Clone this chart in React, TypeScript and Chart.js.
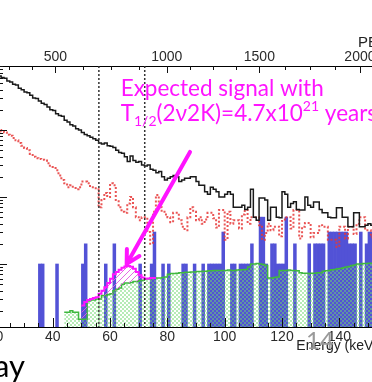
import React, { useEffect, useRef } from 'react';
import { Chart, registerables } from 'chart.js';

Chart.register(...registerables);

// ---------- data (1 keV bins) ----------
const HIST_START = 20; // lower edge of first bin, keV

const ALL_EVENTS = [
  700, 640, 610, 590, 540, 520, 480, 470, 420, 400,
  370, 360, 330, 300, 295, 270, 250, 240, 220, 200,
  195, 175, 165, 160, 140, 132, 120, 115, 104, 100,
  92, 86, 82, 78, 74, 70, 64, 62, 64, 58,
  57, 55, 50, 46, 45, 40, 34, 41, 35, 33,
  34, 30, 29, 30, 26, 25, 23, 24, 20, 18,
  19, 20, 21, 20, 17, 18, 19, 19, 20, 20,
  17, 15, 15, 12, 11, 14, 13, 12, 10, 10,
  11, 12, 11, 7, 7, 7, 7.5, 6.5, 7, 13,
  5, 4.5, 9.7, 9.7, 9, 4.5, 7, 7, 5, 4.9,
  12, 11, 7, 8, 8.5, 6.5, 6.4, 6.4, 10, 7.5,
  7, 8.4, 8.4, 6.5, 5.8, 5.8, 5, 4.9, 4.9, 6.9,
  6.9, 5, 5, 3.6, 3.6, 5.8, 5.8, 3.6, 3.6, 3.8,
  4, 3.8, 4, 4,
];

const AFTER_FIRST_CUT = [
  110, 100, 95, 92, 85, 82, 76, 70, 64, 58,
  54, 50, 44, 40, 38, 37, 36, 35, 32, 28,
  27, 25, 21, 18, 16, 14, 15, 13.6, 13, 14,
  17, 17, 16, 14, 14, 13, 7, 9, 11.5, 10,
  16, 15, 9, 7, 6, 5.8, 8, 10, 7, 5,
  4.5, 5, 5, 3, 2, 6, 10.7, 7, 6, 5.5,
  5, 4.2, 5.8, 5.8, 4.5, 3.6, 3.2, 5, 7, 6,
  4.5, 5, 4, 4.6, 5.8, 5.8, 4.8, 3.5, 6.4, 6.4,
  2.3, 6, 4, 4.5, 4.5, 3.4, 5.5, 6.4, 4, 5,
  5, 5, 3.8, 2.3, 2.9, 4, 3.2, 3.6, 3.6, 2.6,
  4.4, 5, 5, 3.4, 6.4, 6.4, 2.4, 3.6, 4.1, 4.1,
  2.5, 2.9, 2.9, 3.8, 3.6, 3.6, 2.3, 2.3, 2.3, 1.8,
  3.6, 3.6, 2.4, 3.6, 3.6, 2.8, 4, 5, 5, 3.2,
  3.2, 2.5, 3, 3,
];

// final data: bin lower edge (keV) and counts
const DATA_BIN_E = [
  35, 36, 41, 50, 51, 58, 61, 70, 74, 75, 78, 80, 85, 86, 89, 92, 94, 95, 96, 97,
  98, 99, 102, 103, 105, 106, 107, 108, 109, 112, 113, 114, 116, 117, 118, 119, 120, 121, 124, 129,
  131, 132, 133, 134, 136, 137, 138, 139, 140, 141, 142, 143, 144, 145, 147, 149, 150, 151, 152, 153,
];
const DATA_COUNTS = [
  1, 1, 1, 1, 2, 1, 2, 1, 1, 3, 1, 1, 1, 1, 1, 1, 1, 1, 1, 1,
  1, 3, 1, 1, 1, 1, 1, 1, 2, 5, 5, 1, 2, 2, 1, 1, 1, 5, 2, 2,
  2, 2, 2, 2, 3, 3, 3, 3, 3, 3, 3, 2, 2, 2, 3, 2, 3, 3, 3, 3,
];

const BG_START = 44;
const BACKGROUND_MODEL = [
  0.19, 0.19, 0.2, 0.19, 0.19, 0.15, 0.15, 0.15, 0.28, 0.29,
  0.29, 0.3, 0.3, 0.34, 0.34, 0.35, 0.36, 0.4, 0.42, 0.44,
  0.5, 0.52, 0.52, 0.53, 0.55, 0.55, 0.56, 0.57, 0.6, 0.6,
  0.61, 0.62, 0.62, 0.62, 0.63, 0.64, 0.7, 0.72, 0.72, 0.73,
  0.74, 0.74, 0.75, 0.75, 0.76, 0.76, 0.77, 0.77, 0.78, 0.78,
  0.79, 0.79, 0.8, 0.8, 0.8, 0.8, 0.8, 0.81, 0.8, 0.8,
  0.81, 0.82, 0.82, 0.83, 0.9, 1.0, 1.0, 1.02, 1.0, 0.98,
  0.95, 0.62, 0.62, 0.63, 0.64, 0.8, 0.8, 0.8, 0.81, 0.8,
  0.8, 0.79, 0.74, 0.73, 0.73, 0.72, 0.73, 0.73, 0.74, 0.74,
  0.78, 0.79, 0.8, 0.82, 0.83, 0.85, 0.86, 0.88, 0.9, 0.92,
  0.95, 0.97, 1.0, 1.0, 1.02, 1.02, 1.03, 1.03, 1.04, 1.04,
];

const SIGNAL_START = 50;
const SIGNAL_PLUS_BG = [
  0.24, 0.27, 0.29, 0.3, 0.31, 0.32, 0.36, 0.4, 0.45, 0.52,
  0.6, 0.7, 0.76, 0.82, 0.88, 0.92, 0.93, 0.91, 0.85, 0.76,
  0.68, 0.63, 0.6, 0.61, 0.62, 0.62,
];

const SIGNAL_WINDOW = [56.1, 72.1];

const ENERGY_TICKS = [20, 40, 60, 80, 100, 120, 140];
const PE_LABELS = ['500', '1000', '1500', '2000'];
const PE_ENERGY = [40.9, 79.8, 112.1, 147.2];

const X_MIN = 20.9;
const X_MAX = 153.5;
const Y_MIN = 0.1147;
const Y_MAX = 902;

// annotation anchors (data coordinates)
const NOTE_E = 63.7;
const NOTE_V = 320;
const ARROW_FROM = { e: 87.9, v: 47 };
const ARROW_TO = { e: 65.8, v: 1.0 };

const MAGENTA = '#ff14ff';

function histPoints(start: number, values: number[]) {
  const pts = values.map((v, i) => ({ x: start + i, y: v }));
  pts.push({ x: start + values.length, y: values[values.length - 1] });
  return pts;
}

function makeCheckPattern() {
  const t = document.createElement('canvas');
  t.width = 4;
  t.height = 4;
  const c = t.getContext('2d')!;
  c.fillStyle = 'rgba(110,215,110,0.5)';
  c.fillRect(0, 0, 2, 2);
  c.fillRect(2, 2, 2, 2);
  return c.createPattern(t, 'repeat')!;
}

function makeHatchPattern() {
  const t = document.createElement('canvas');
  t.width = 6;
  t.height = 6;
  const c = t.getContext('2d')!;
  c.strokeStyle = 'rgba(225,90,225,0.9)';
  c.lineWidth = 1;
  c.beginPath();
  c.moveTo(-1, 7);
  c.lineTo(7, -1);
  c.moveTo(-1, 1);
  c.lineTo(1, -1);
  c.moveTo(5, 7);
  c.lineTo(7, 5);
  c.stroke();
  return c.createPattern(t, 'repeat')!;
}

const ticksPlugin = {
  id: 'inwardTicks',
  afterDatasetsDraw(chart: any) {
    const { ctx, chartArea: a, scales } = chart;
    const x = scales.x;
    const y = scales.y;
    ctx.save();
    // signal window lines
    ctx.strokeStyle = '#333';
    ctx.lineWidth = 1.5;
    ctx.setLineDash([2, 2]);
    SIGNAL_WINDOW.forEach((e) => {
      const px = x.getPixelForValue(e);
      ctx.beginPath();
      ctx.moveTo(px, a.top);
      ctx.lineTo(px, a.bottom);
      ctx.stroke();
    });
    ctx.setLineDash([]);
    ctx.strokeStyle = '#111';
    ctx.lineWidth = 1;
    const seg = (x1: number, y1: number, x2: number, y2: number) => {
      ctx.beginPath();
      ctx.moveTo(x1, y1);
      ctx.lineTo(x2, y2);
      ctx.stroke();
    };
    // bottom axis
    for (let e = 25; e <= X_MAX; e += 5) {
      const px = Math.round(x.getPixelForValue(e)) + 0.5;
      seg(px, a.bottom, px, a.bottom - (e % 20 === 0 ? 9 : 4));
    }
    // top axis (PE)
    const majors = PE_ENERGY;
    const minors: number[] = [];
    const first = (majors[1] - majors[0]) / 4.8;
    minors.push(majors[0] - first, majors[0] - 2 * first);
    for (let i = 0; i < majors.length - 1; i++) {
      const step = (majors[i + 1] - majors[i]) / 4;
      for (let k = 1; k < 4; k++) minors.push(majors[i] + k * step);
    }
    majors.forEach((e) => {
      const px = Math.round(x.getPixelForValue(e)) + 0.5;
      seg(px, a.top, px, a.top + 7);
    });
    minors.forEach((e) => {
      const px = Math.round(x.getPixelForValue(e)) + 0.5;
      seg(px, a.top, px, a.top + 4);
    });
    // left axis (log)
    for (let d = -1; d <= 2; d++) {
      for (let m = 1; m <= 9; m++) {
        const v = m * Math.pow(10, d);
        if (v < Y_MIN || v > Y_MAX) continue;
        const py = Math.round(y.getPixelForValue(v)) + 0.5;
        seg(a.left, py, a.left + (m === 1 ? 9 : 5), py);
      }
    }
    ctx.restore();
  },
  afterDraw(chart: any) {
    const { ctx, scales } = chart;
    const x = scales.x;
    const y = scales.y;
    ctx.save();
    // arrow
    const x1 = x.getPixelForValue(ARROW_FROM.e);
    const y1 = y.getPixelForValue(ARROW_FROM.v);
    const x2 = x.getPixelForValue(ARROW_TO.e);
    const y2 = y.getPixelForValue(ARROW_TO.v);
    ctx.strokeStyle = MAGENTA;
    ctx.lineWidth = 4;
    ctx.lineCap = 'round';
    ctx.beginPath();
    ctx.moveTo(x1, y1);
    ctx.lineTo(x2, y2);
    const ang = Math.atan2(y1 - y2, x1 - x2);
    const hl = 15;
    ctx.moveTo(x2 + hl * Math.cos(ang + 0.5), y2 + hl * Math.sin(ang + 0.5));
    ctx.lineTo(x2, y2);
    ctx.lineTo(x2 + hl * Math.cos(ang - 0.5), y2 + hl * Math.sin(ang - 0.5));
    ctx.stroke();

    // annotation text
    const tx = x.getPixelForValue(NOTE_E);
    const ty = y.getPixelForValue(NOTE_V);
    const big = '22.5px Lato, "Open Sans", sans-serif';
    const small = '14px Lato, "Open Sans", sans-serif';
    ctx.fillStyle = MAGENTA;
    ctx.textBaseline = 'alphabetic';
    ctx.textAlign = 'left';
    ctx.font = big;
    ctx.fillText('Expected signal with', tx, ty);
    const by = ty + 25;
    let cx = tx;
    const put = (s: string, font: string, dy: number) => {
      ctx.font = font;
      ctx.fillText(s, cx, by + dy);
      cx += ctx.measureText(s).width;
    };
    put('T', big, 0);
    put('1/2', small, 5);
    put('(2\u03bd2K)=4.7x10', big, 0);
    put('21', small, -10);
    put(' years', big, 0);

    // page fragments
    ctx.fillStyle = '#9a9a9a';
    ctx.font = '24px Lato, sans-serif';
    ctx.fillText('14', 308, 349);
    ctx.fillStyle = '#000';
    ctx.font = '31px Lato, sans-serif';
    ctx.textAlign = 'right';
    ctx.fillText('ay', 27, 377);
    ctx.restore();
  },
};

export default function App() {
  const ref = useRef<HTMLCanvasElement>(null);

  useEffect(() => {
    const canvas = ref.current!;
    const check = makeCheckPattern();
    const hatch = makeHatchPattern();
    const tickFont = { family: '"Liberation Sans", Arial, sans-serif', size: 14 };
    const noPad = (s: any, h: number) => {
      s.height = h;
      s.paddingLeft = 0;
      s.paddingRight = 0;
    };

    const chart = new Chart(canvas, {
      type: 'bar',
      data: {
        datasets: [
          {
            type: 'line',
            label: 'All events',
            data: histPoints(HIST_START, ALL_EVENTS),
            stepped: true,
            borderColor: '#1a1a1a',
            borderWidth: 1.5,
            pointRadius: 0,
            fill: false,
            order: 0,
          } as any,
          {
            type: 'line',
            label: 'After first cut',
            data: histPoints(HIST_START, AFTER_FIRST_CUT),
            stepped: true,
            borderColor: 'rgba(230,55,55,0.85)',
            borderWidth: 2,
            borderDash: [2, 2],
            pointRadius: 0,
            fill: false,
            order: 1,
          } as any,
          {
            type: 'line',
            label: 'Expected signal',
            data: histPoints(SIGNAL_START, SIGNAL_PLUS_BG),
            stepped: true,
            borderColor: MAGENTA,
            borderWidth: 2,
            pointRadius: 0,
            fill: { target: 3 },
            backgroundColor: hatch,
            order: 2,
          } as any,
          {
            type: 'line',
            label: 'Background model',
            data: histPoints(BG_START, BACKGROUND_MODEL),
            stepped: true,
            borderColor: '#3fb83f',
            borderWidth: 1.5,
            pointRadius: 0,
            fill: 'start',
            backgroundColor: check,
            order: 3,
          } as any,
          {
            type: 'bar',
            label: 'Data',
            data: DATA_BIN_E.map((e, i) => ({ x: e + 0.5, y: DATA_COUNTS[i] })),
            backgroundColor: '#5252d6',
            borderWidth: 0,
            barPercentage: 1,
            categoryPercentage: 1,
            order: 4,
          } as any,
        ],
      },
      options: {
        responsive: false,
        animation: false,
        devicePixelRatio: 1,
        layout: { padding: 0 },
        plugins: {
          legend: { display: false },
          tooltip: { enabled: false },
        },
        scales: {
          x: {
            type: 'linear',
            position: 'bottom',
            min: X_MIN,
            max: X_MAX,
            offset: false,
            z: 1,
            grid: { display: false, drawTicks: false },
            border: { display: true, color: '#000', width: 1 },
            ticks: {
              font: tickFont,
              color: '#2a2a2a',
              padding: 2,
              autoSkip: false,
              maxRotation: 0,
              minRotation: 0,
              callback: (v: any) => String(v),
            },
            afterBuildTicks: (s: any) => {
              s.ticks = ENERGY_TICKS.map((v) => ({ value: v }));
            },
            afterFit: (s: any) => noPad(s, 55),
            title: {
              display: true,
              text: 'Energy (keV)',
              align: 'end',
              color: '#222',
              font: tickFont,
              padding: { top: 0, bottom: 27 },
            },
          },
          x2: {
            type: 'linear',
            position: 'top',
            min: X_MIN,
            max: X_MAX,
            offset: false,
            z: 1,
            grid: { display: false, drawTicks: false },
            border: { display: true, color: '#000', width: 1 },
            ticks: {
              font: tickFont,
              color: '#2a2a2a',
              padding: 0,
              autoSkip: false,
              maxRotation: 0,
              minRotation: 0,
              callback: (_v: any, i: number) => PE_LABELS[i],
            },
            afterBuildTicks: (s: any) => {
              s.ticks = PE_ENERGY.map((v) => ({ value: v }));
            },
            afterFit: (s: any) => noPad(s, 66),
            title: {
              display: true,
              text: 'PE',
              align: 'end',
              color: '#222',
              font: { family: '"Liberation Sans", Arial, sans-serif', size: 15 },
              padding: { top: 34, bottom: 0 },
            },
          },
          y: {
            type: 'logarithmic',
            display: false,
            min: Y_MIN,
            max: Y_MAX,
            beginAtZero: false,
          },
        },
      } as any,
      plugins: [ticksPlugin],
    });
    return () => chart.destroy();
  }, []);

  return (
    <div
      style={{
        position: 'fixed',
        left: 0,
        top: 0,
        width: 372,
        height: 382,
        overflow: 'hidden',
        background: '#fff',
      }}
    >
      <canvas
        ref={ref}
        width={380}
        height={382}
        style={{ position: 'absolute', left: -2, top: 0, width: 380, height: 382 }}
      />
    </div>
  );
}
